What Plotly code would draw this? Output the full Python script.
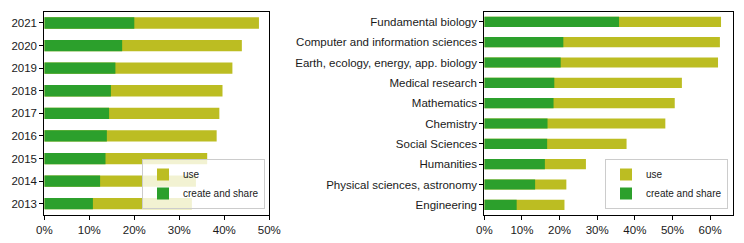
import plotly.graph_objects as go

years = ["2013", "2014", "2015", "2016", "2017", "2018", "2019", "2020", "2021"]
year_create = [10.8, 12.4, 13.6, 13.9, 14.4, 14.8, 15.8, 17.3, 20.0]
year_use = [32.8, 33.7, 36.2, 38.3, 38.9, 39.6, 41.8, 43.9, 47.7]

fields = ["Engineering", "Physical sciences, astronomy", "Humanities", "Social Sciences",
          "Chemistry", "Mathematics", "Medical research",
          "Earth, ecology, energy, app. biology", "Computer and information sciences",
          "Fundamental biology"]
field_create = [8.6, 13.5, 16.1, 16.7, 16.8, 18.4, 18.6, 20.3, 21.0, 35.8]
field_use = [21.3, 21.8, 27.0, 37.8, 48.1, 50.6, 52.5, 62.1, 62.6, 62.9]

left_ticks = [0, 10, 20, 30, 40, 50]
right_ticks = [0, 10, 20, 30, 40, 50, 60]

OLIVE = "#bcbd22"
GREEN = "#2ca02c"
FONT = "Liberation Sans"
TXT = "#1a1a1a"

fig = go.Figure()
fig.add_trace(go.Bar(y=years, x=year_use, orientation="h", name="use", marker_color=OLIVE,
                     marker_line_width=0, width=0.5, xaxis="x", yaxis="y", legend="legend"))
fig.add_trace(go.Bar(y=years, x=year_create, orientation="h", name="create and share",
                     marker_color=GREEN, marker_line_width=0, width=0.5,
                     xaxis="x", yaxis="y", legend="legend"))
fig.add_trace(go.Bar(y=fields, x=field_use, orientation="h", name="use", marker_color=OLIVE,
                     marker_line_width=0, width=0.5, xaxis="x2", yaxis="y2", legend="legend2"))
fig.add_trace(go.Bar(y=fields, x=field_create, orientation="h", name="create and share",
                     marker_color=GREEN, marker_line_width=0, width=0.5,
                     xaxis="x2", yaxis="y2", legend="legend2"))

W, H = 744, 243
ytop, ybot = 11.7, 215.0
yd = [(H - ybot) / H, (H - ytop) / H]

axis_common = dict(showline=True, linecolor="black", linewidth=1, mirror=True,
                   ticks="outside", ticklen=4, tickcolor="black", showgrid=False,
                   zeroline=False, automargin=False,
                   tickfont=dict(family=FONT, size=11.5, color=TXT))

legend_common = dict(traceorder="normal", bgcolor="rgba(255,255,255,0.8)",
                     bordercolor="#cccccc", borderwidth=1,
                     font=dict(family=FONT, size=10, color=TXT), itemwidth=30,
                     tracegroupgap=0)

fig.update_layout(
    width=W, height=H, margin=dict(l=0, r=0, t=0, b=0),
    paper_bgcolor="white", plot_bgcolor="white",
    barmode="overlay",
    font=dict(family=FONT, size=11.5, color=TXT),
    xaxis=dict(domain=[44.3 / W, 269.3 / W], range=[0, 50], tickmode="array",
               tickvals=left_ticks, ticktext=[f"{v}%" for v in left_ticks],
               anchor="y", **axis_common),
    yaxis=dict(domain=yd, range=[-0.5, 8.5], type="category", categoryorder="array",
               categoryarray=years, anchor="x", **axis_common),
    xaxis2=dict(domain=[484.3 / W, 732.7 / W], range=[0, 66], tickmode="array",
                tickvals=right_ticks, ticktext=[f"{v}%" for v in right_ticks],
                anchor="y2", **axis_common),
    yaxis2=dict(domain=yd, range=[-0.5, 9.5], type="category", categoryorder="array",
                categoryarray=fields, anchor="x2", **axis_common),
    legend=dict(x=265 / W, xanchor="right", y=(H - 209) / H, yanchor="bottom",
                **legend_common),
    legend2=dict(x=728 / W, xanchor="right", y=(H - 209) / H, yanchor="bottom",
                 **legend_common),
    showlegend=True,
)

fig.write_html("out.html", config={"displayModeBar": False},
               post_script="document.body.style.margin='0';document.body.style.padding='0';")
